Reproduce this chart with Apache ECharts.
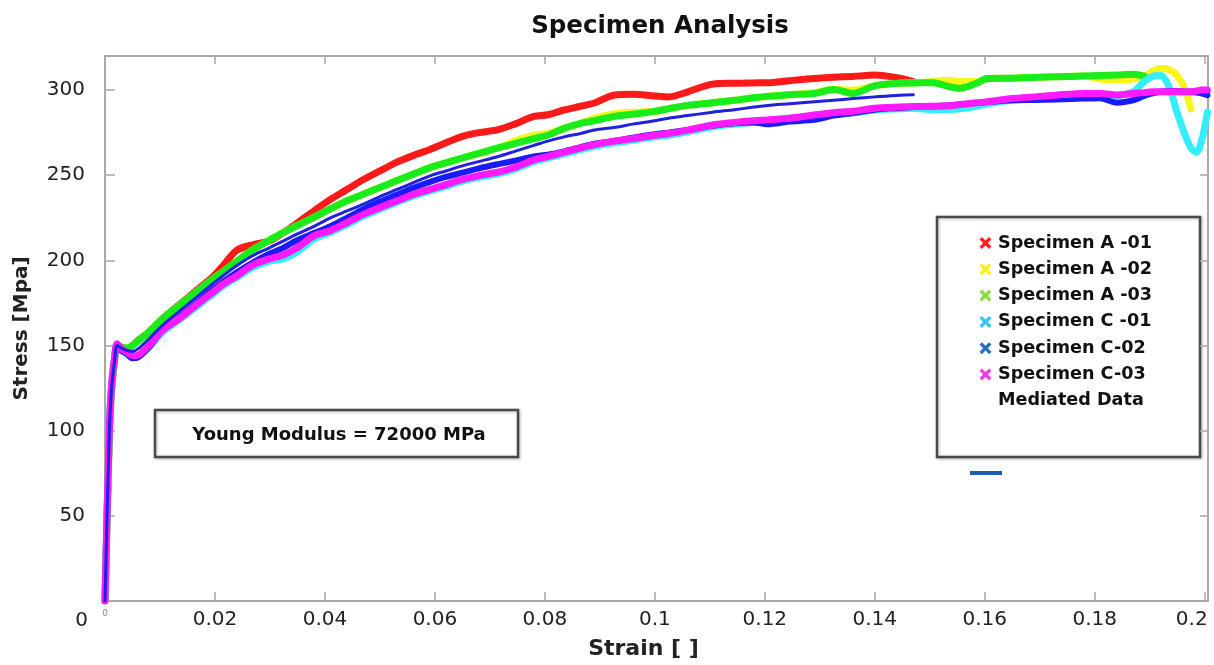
<!DOCTYPE html>
<html>
<head>
<meta charset="utf-8">
<script src="https://cdn.jsdelivr.net/npm/echarts@6/dist/echarts.min.js"></script>
<style>html,body{margin:0;padding:0;background:#fff}#c{width:1214px;height:665px}</style>
</head>
<body>
<div id="c"></div>
<script>
// Strain grid [ ]
const strain = [0,0.0003,0.0008,0.0012,0.0017,0.0022,0.003,0.004,0.005,0.006,0.008,0.0105,0.0135,0.0165,0.0195,0.0215,0.024,0.027,0.03,0.0325,0.035,0.038,0.041,0.044,0.047,0.05,0.053,0.056,0.059,0.062,0.065,0.068,0.0715,0.0745,0.078,0.0805,0.0835,0.0865,0.089,0.0925,0.096,0.1,0.1025,0.106,0.1105,0.1145,0.118,0.1205,0.1245,0.129,0.1325,0.136,0.14,0.1445,0.147,0.1505,0.1535,0.1555,0.1585,0.1605,0.165,0.169,0.173,0.178,0.181,0.184,0.187,0.189,0.1905,0.192,0.1935,0.195,0.1965,0.1975,0.1985,0.1995,0.2005];

// Stress [MPa] per specimen (null = no data)
const specA01 = [0,38,98,124,140,150,149,148,150,153,158,166,174,182,190,197,206,209.3,211.5,216.4,222,229,235.8,241.6,247.5,252.5,257.5,261.5,265,269,272.8,275,276.8,280,284.5,285.5,288.3,290.5,292.4,297,297.5,296.5,296,299,303.5,304,304.2,304.3,305.5,306.8,307.5,308,308.8,307,304.9,null,null,null,null,null,null,null,null,null,null,null,null,null,null,null,null,null,null,null,null,null,null];
const specA02 = [0,40,100,125,140,150,149,148.5,150,152.5,158,165.8,173.5,181.3,188.8,193.5,199.5,206.5,212,216.5,220.5,225.3,230.3,235,238.9,242.8,246.7,250.5,254.3,257.2,260.1,262.8,266,270,273.5,274.5,277.5,280.5,283.5,286,287,287.5,289,291,292.5,294,295.5,296.3,297.3,298.5,300.5,300,302.5,304,304.2,305,305.8,305,305,306.8,307,307.4,307.8,308.2,306.5,306,306.5,308,311,312.6,312,308.5,300,289,null,null,null];
const specA03 = [0,40,100,125,140,150,149,148.5,150,152.5,158,165.8,173.5,181.3,188.8,193.5,199.5,206.5,212,216.5,220.5,225.3,230.3,235,238.9,242.8,246.7,250.5,254.3,257.2,260.1,262.8,266,268.5,271.5,273.5,277.5,280.5,282,284.5,285.8,287.5,289,291,292.5,294,295.5,296.3,297.3,298,300.4,298,302.5,304,304.2,304.3,302,301,304,306.8,307,307.4,307.8,308.2,308.5,308.8,309.3,308.2,null,null,null,null,null,null,null,null,null];
const specC01 = [0,41,101,126,141,150,147,145,143,143.5,149,158,165,172.5,180,185,190,196,199.5,201,205,212.5,216.5,221,226,230,234,237.7,240.6,243.5,246.5,248.8,250.8,253.5,258,260,262.5,265,267,269,270.5,272.5,273.5,275.5,278.5,280,281,281.5,282.5,284.4,285.7,286.5,288.3,289,289.3,288.5,288.5,289,290.5,292,294,295,296,297,296,296.5,299,305,308,308.5,302,286.6,273,266,263.5,271,287];
const specC02 = [0,40,100,126,141,150,147,145,142.5,143,149,159,166.5,174.5,182.5,187.5,193,199,204,207.5,212,216,220,225,230,234.5,238.5,242.5,246,249,251.5,254,256.5,258.5,261,262,264,266.5,268.5,270,272,274,275,276.5,279,280.5,281,280,281.5,282.5,285,286.5,288.5,289.5,290,290.5,291,291.5,292.4,293,294,294.2,294.5,295,295.2,292.6,294,296.5,298,299,299.5,299.5,299,299,298.5,298,297];
const specC03 = [0,42,102,127,142,151,148,146,144,144.3,150,159,165.8,173.5,181,186,191,197.5,201,203.3,207.5,214.4,217.5,222.2,227,231,234.8,238.7,241.6,244.5,247.5,249.8,251.8,254.5,259,261,263.5,266,268,270,271.5,273.5,274.5,276.5,279.5,281,282,282.5,283.5,285.4,286.7,287.5,289.3,290,290.3,290.5,290.8,291.5,292.5,293.2,295,296,297,298,298,297.1,298,298.5,299,299,299,299,299,299,299.5,300,300];
const mediated = [0,40,100,125,140,150,148.5,147,146.5,148,154,162,170,178,186,191,197,203,207.5,211.5,215.5,220,225,229,233,237.5,241.5,245.5,249.5,252.5,255.5,258,261,264,267.5,270,272.5,274.5,276.5,278,280,282,283.5,285,287,288.5,290,291,292,293.2,294,295,296,297,297.2,null,null,null,null,null,null,null,null,null,null,null,null,null,null,null,null,null,null,null,null,null,null];

const seriesNames = ['Specimen A -01','Specimen A -02','Specimen A -03','Specimen C -01','Specimen C-02','Specimen C-03','Mediated Data'];
const xTicks = [0.02,0.04,0.06,0.08,0.1,0.12,0.14,0.16,0.18,0.2];
const yTicks = [50,100,150,200,250,300];

const FONT = 'DejaVu Sans';
function pairs(arr){ const out=[]; arr.forEach((v,i)=>{ if(v!==null) out.push([strain[i], v]); }); return out; }
const XICON = 'path://M0,2 L2,0 L5,3 L8,0 L10,2 L7,5 L10,8 L8,10 L5,7 L2,10 L0,8 L3,5 Z';

function line(name, arr, color, width, z){
  return {name, type:'line', data:pairs(arr), showSymbol:false, symbol:'none', smooth:0.3,
    lineStyle:{color, width, cap:'round', join:'round'}, itemStyle:{color}, z, silent:true};
}

const chart = echarts.init(document.getElementById('c'), null, {renderer:'canvas'});
const axisColor = '#a8a8a8';
chart.setOption({
  animation:false,
  backgroundColor:'#fff',
  title:{text:'Specimen Analysis', left:655, textAlign:'center', top:9,
    textStyle:{fontFamily:FONT, fontWeight:'bold', fontSize:24.5, color:'#111'}},
  grid:{left:105, right:6, top:56, bottom:61, containLabel:false},
  xAxis:[{
    type:'value', min:0, max:0.2006, interval:0.02, position:'bottom',
    name:'Strain [ ]', nameLocation:'middle', nameGap:37,
    nameTextStyle:{fontFamily:FONT, fontWeight:'bold', fontSize:22, color:'#222', padding:[0,26,0,0]},
    axisLine:{show:true, onZero:false, lineStyle:{color:axisColor, width:2}},
    axisTick:{show:true, inside:true, length:9, lineStyle:{color:axisColor, width:1.5}},
    splitLine:{show:false},
    axisLabel:{fontFamily:FONT, fontSize:20, color:'#222', margin:9,
      formatter:function(v){
        const hit = xTicks.find(t=>Math.abs(t-v)<1e-9);
        if(hit===undefined) return '';
        const s = String(parseFloat(hit.toFixed(2)));
        return hit===0.2 ? '{r|'+s+'}' : s;
      },
      rich:{r:{fontFamily:FONT, fontSize:20, color:'#222', padding:[0,26,0,0]}}}
  },{
    type:'value', min:0, max:0.2006, interval:0.02, position:'top',
    axisLine:{show:true, onZero:false, lineStyle:{color:axisColor, width:2}},
    axisTick:{show:true, inside:true, length:8, lineStyle:{color:axisColor, width:1.5}},
    axisLabel:{show:false}, splitLine:{show:false}
  }],
  yAxis:[{
    type:'value', min:0, max:320, interval:50, position:'left',
    name:'Stress [Mpa]', nameLocation:'middle', nameGap:73,
    nameTextStyle:{fontFamily:FONT, fontWeight:'bold', fontSize:20, color:'#222'},
    axisLine:{show:true, onZero:false, lineStyle:{color:axisColor, width:2}},
    axisTick:{show:true, inside:true, length:10, lineStyle:{color:axisColor, width:1.5}},
    splitLine:{show:false},
    axisLabel:{fontFamily:FONT, fontSize:20, color:'#222', margin:20,
      formatter:function(v){ return yTicks.indexOf(v)>=0 ? String(v) : ''; }}
  },{
    type:'value', min:0, max:320, interval:50, position:'right',
    axisLine:{show:true, onZero:false, lineStyle:{color:axisColor, width:2}},
    axisTick:{show:true, inside:true, length:8, lineStyle:{color:axisColor, width:1.5}},
    axisLabel:{show:false}, splitLine:{show:false}
  }],
  legend:{
    orient:'vertical', left:973, top:229, itemWidth:15, itemHeight:12, itemGap:8.3,
    selectedMode:false,
    textStyle:{fontFamily:FONT, fontWeight:'bold', fontSize:17.6, color:'#111', lineHeight:18},
    data:[
      {name:seriesNames[0], icon:XICON, itemStyle:{color:'#ff2020'}},
      {name:seriesNames[1], icon:XICON, itemStyle:{color:'#ffee22'}},
      {name:seriesNames[2], icon:XICON, itemStyle:{color:'#8ad84a'}},
      {name:seriesNames[3], icon:XICON, itemStyle:{color:'#33c8f5'}},
      {name:seriesNames[4], icon:XICON, itemStyle:{color:'#2a6fc0'}},
      {name:seriesNames[5], icon:XICON, itemStyle:{color:'#f040e0'}},
      {name:seriesNames[6], icon:'none'}
    ]
  },
  graphic:[
    {type:'rect', shape:{x:937, y:217, width:263, height:240},
      style:{fill:'#fff', stroke:'#4a4a4a', lineWidth:2.5, shadowBlur:3, shadowColor:'rgba(0,0,0,0.25)', shadowOffsetX:1, shadowOffsetY:1}, z:-1},
    {type:'line', shape:{x1:970, y1:473, x2:1002, y2:473}, style:{stroke:'#1f5fa8', lineWidth:4}},
    {type:'rect', shape:{x:155, y:410, width:363, height:47},
      style:{fill:'#fff', stroke:'#4a4a4a', lineWidth:2.5, shadowBlur:3, shadowColor:'rgba(0,0,0,0.25)', shadowOffsetX:1, shadowOffsetY:1}},
    {type:'text', x:339, y:435, z:10, style:{text:'Young Modulus = 72000 MPa', align:'center', verticalAlign:'middle',
      font:'bold 18px "DejaVu Sans"', fill:'#111'}},
    {type:'text', x:88, y:621, style:{text:'0', align:'right', verticalAlign:'middle',
      font:'20px "DejaVu Sans"', fill:'#222'}},
    {type:'text', x:105, y:614, style:{text:'0', align:'center', verticalAlign:'middle',
      font:'9px "DejaVu Sans"', fill:'#888'}}
  ],
  series:[
    line(seriesNames[0], specA01, '#ff1a1a', 7, 2),
    line(seriesNames[1], specA02, '#f7f51a', 7, 3),
    line(seriesNames[2], specA03, '#1aeb1a', 7, 4),
    line(seriesNames[3], specC01, '#33eeff', 7, 5),
    line(seriesNames[4], specC02, '#1a1aff', 6, 6),
    line(seriesNames[5], specC03, '#ff1aff', 7, 7),
    line(seriesNames[6], mediated, '#2020e0', 3, 8)
  ]
});
</script>
</body>
</html>
